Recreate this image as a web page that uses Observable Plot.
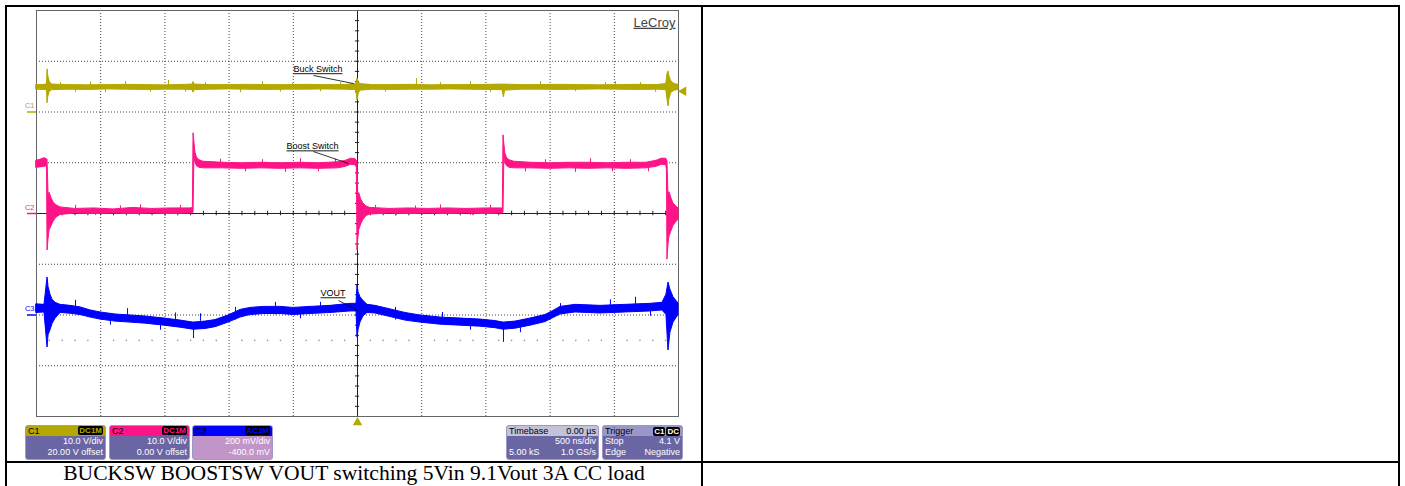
<!DOCTYPE html>
<html><head><meta charset="utf-8">
<script src="https://cdn.jsdelivr.net/npm/d3@7"></script>
<script src="https://cdn.jsdelivr.net/npm/@observablehq/plot@0.6"></script>
<style>
html,body{margin:0;padding:0;background:#fff;}
body{width:1405px;height:486px;position:relative;overflow:hidden;font-family:"Liberation Sans",Arial,sans-serif;}
#scope{position:absolute;left:0;top:0;width:700px;height:462px;}
.tline{position:absolute;background:#000;z-index:5;}
.panel{position:absolute;top:425px;height:35px;background:#6a66a4;border-radius:3px;z-index:4;font-size:9px;color:#fff;overflow:hidden;box-sizing:border-box;border:1px solid #9c99c8;}
.hdr{height:10px;line-height:10px;padding:0 2px;display:flex;justify-content:space-between;color:#000;}
.row{height:11px;line-height:11px;padding:0 2px;display:flex;justify-content:space-between;}
.badge{background:#000;border-radius:2px;padding:0 1px;font-weight:bold;font-size:8px;line-height:9px;height:9px;margin-left:1px;}
#caption{position:absolute;left:7px;width:694px;top:463px;height:23px;text-align:center;font-family:"Liberation Serif","Times New Roman",serif;font-size:21.6px;line-height:21px;white-space:nowrap;color:#000;}
</style></head>
<body>
<div id="scope"></div>
<div id="caption"></div>
<script>
// ---------- channel settings (from the scope panels) ----------
const chName = ["C1", "C2", "C3"];
const chColor = ["#b3a900", "#ff1488", "#0000ff"];
const chVdiv = [10, 10, 200];          // V/div, V/div, mV/div
const chOffset = [20, 0, -400];        // V, V, mV
const trigLevel = 4.1;                 // V on C1
const timeDomain = [-2500, 2500];      // ns, 500 ns/div

// ---------- C1 Buck switch (V): envelope ----------
const c1T  = [-2500,-2430,-2418,-2414,-2408,-2398,-2380,-2250,-2100,-1950,-1800,-1650,-1500,-1350,-1285,-1277,-1268,-1150,-1000,-850,-700,-550,-400,-250,-100,-10,0,8,20,120,270,420,570,720,870,1020,1130,1140,1150,1280,1430,1580,1730,1880,2030,2180,2330,2405,2414,2422,2430,2445,2470,2500];
const c1Lo = [4.40,4.35,4.2,1.7,3.0,3.9,4.3,4.4,4.35,4.45,4.4,4.35,4.4,4.4,4.3,3.8,4.3,4.4,4.45,4.4,4.35,4.4,4.4,4.45,4.4,4.3,2.3,3.4,4.2,4.4,4.35,4.4,4.4,4.45,4.4,4.35,4.3,2.9,4.2,4.4,4.4,4.35,4.4,4.45,4.4,4.35,4.4,4.3,2.5,1.1,2.6,3.8,4.2,4.35];
const c1Hi = [5.30,5.35,5.6,8.4,7.0,6.0,5.4,5.3,5.25,5.3,5.35,5.3,5.25,5.35,5.4,5.9,5.4,5.3,5.3,5.35,5.3,5.3,5.35,5.3,5.3,5.5,6.6,6.0,5.5,5.3,5.3,5.35,5.25,5.3,5.3,5.35,5.4,5.4,5.4,5.3,5.3,5.35,5.3,5.25,5.3,5.35,5.3,5.5,7.5,8.0,7.0,6.0,5.5,5.35];
// C1 noise hairs
const c1SpT  = [-2313,-2196,-2079,-1963,-1807,-1612,-1472,-1340,-1184,-911,-740,-600,-506,-288,-132,218,459,646,880,1036,1425,1698,1931,2009,2204,2321];
const c1SpLo = [4.8,3.9,4.4,3.8,4.8,3.9,4.8,3.9,4.8,3.8,4.8,3.9,4.8,4.0,4.8,3.9,4.8,4.8,4.8,3.9,4.8,4.0,4.8,4.8,4.8,3.9];
const c1SpHi = [5.8,4.9,5.9,4.8,6.0,4.8,6.2,4.8,5.8,4.7,6.0,4.8,5.6,4.8,5.8,4.8,6.6,5.8,6.0,4.8,6.0,4.8,5.8,6.0,5.8,4.8];

// ---------- C2 Boost switch (V): envelope ----------
const c2T  = [-2500,-2469,-2438,-2418,-2414,-2406,-2398,-2383,-2367,-2344,-2313,-2200,-2050,-1900,-1750,-1600,-1450,-1300,-1282,-1277,-1270,-1262,-1250,-1230,-1200,-1050,-900,-750,-600,-450,-300,-150,-90,-50,-15,-5,0,6,14,28,45,70,100,250,400,550,700,850,1000,1125,1132,1137,1144,1152,1165,1185,1220,1350,1500,1650,1800,1950,2100,2250,2330,2370,2405,2410,2414,2422,2430,2445,2460,2480,2500];
const c2Lo = [9.0,9.1,9.2,9.3,-7.3,-5.0,-3.3,-2.5,-1.6,-0.8,-0.3,0.0,-0.1,0.0,-0.1,0.0,-0.1,0.0,0.1,0.1,11.5,10.0,9.3,9.0,8.9,8.9,8.8,8.9,8.8,8.9,8.8,8.9,9.2,9.6,9.5,9.0,-7.3,-5.0,-3.2,-2.2,-1.3,-0.5,-0.2,0.0,-0.1,0.0,-0.1,0.0,-0.1,0.0,0.1,0.1,11.2,10.0,9.3,9.0,8.9,8.9,8.8,8.9,8.8,8.9,8.8,8.9,9.2,9.6,9.5,8.5,-9.1,-6.0,-4.5,-3.5,-2.5,-1.8,-1.2];
const c2Hi = [10.4,10.6,10.9,10.7,10.6,3.5,4.1,3.0,2.2,1.6,1.2,0.9,1.0,0.8,1.1,0.9,1.0,1.0,1.1,15.8,14.0,12.0,11.0,10.5,10.2,10.0,9.9,10.0,9.9,10.0,9.9,10.1,10.4,10.8,10.7,10.3,10.3,3.5,4.0,2.8,2.0,1.4,1.1,0.9,1.0,0.9,1.0,0.9,1.0,1.0,1.1,15.4,13.6,11.8,10.9,10.5,10.2,10.0,9.9,10.0,10.0,9.9,10.0,10.0,10.4,10.8,10.8,10.4,10.4,3.8,4.2,3.0,2.0,1.5,1.0];
const c2SpT  = [-2196,-2040,-1846,-1690,-1495,-1378,-1067,-872,-740,-561,-444,-304,-171,140,296,452,646,880,1036,1308,1464,1698,1815,1986,2126,2266];
const c2SpLo = [0.4,-0.4,0.4,0.3,-0.5,0.4,9.4,8.2,9.4,8.1,9.5,8.2,9.5,0.4,-0.5,0.4,0.3,-0.4,0.4,8.2,9.4,8.1,9.5,8.2,9.4,8.2];
const c2SpHi = [1.6,0.5,1.5,1.7,0.4,1.6,10.7,9.3,10.6,9.2,10.8,9.3,10.7,1.6,0.4,1.5,1.7,0.4,1.6,9.3,10.6,9.2,10.8,9.3,10.6,9.2];

// ---------- C3 VOUT (mV, AC coupled): envelope ----------
const c3T  = [-2500,-2438,-2414,-2406,-2391,-2375,-2352,-2313,-2235,-2157,-2079,-2001,-1885,-1768,-1651,-1503,-1378,-1277,-1184,-1106,-1005,-911,-833,-724,-600,-498,-366,-210,-55,-8,0,8,23,47,78,140,257,374,491,646,802,958,1075,1137,1230,1347,1464,1526,1581,1698,1893,2087,2282,2375,2406,2422,2437,2461,2500];
const c3Lo = [8,10,-128,-80,-60,-35,-15,8,5,0,-10,-18,-26,-30,-34,-42,-50,-58,-55,-48,-30,-10,0,4,4,0,4,8,14,14,-89,-60,-30,-5,8,6,-8,-22,-30,-38,-42,-46,-52,-58,-54,-42,-28,-12,2,10,6,10,14,18,0,-140,-70,-30,0];
const c3Hi = [42,40,148,110,80,60,48,40,36,30,18,10,2,-2,-6,-14,-22,-30,-26,-20,-2,20,28,32,32,28,32,36,44,44,116,90,70,55,40,36,22,8,-2,-10,-14,-18,-24,-30,-26,-14,0,16,32,40,36,40,44,48,80,128,100,70,45];
const c3SpT  = [-2196,-1924,-1791,-1534,-1417,-1277,-1223,-950,-639,-444,-288,296,662,880,1137,1269,1581,1970,2165,2282];
const c3SpLo = [20,-40,-15,-60,-20,-93,-25,-20,0,-15,20,-20,-20,-60,-108,-70,10,30,30,-5];
const c3SpHi = [58,-10,25,-30,8,-40,5,30,50,15,50,30,10,-30,-40,-40,45,60,70,20];

// ---------- labels on the screen ----------
const annText = ["Buck Switch", "Boost Switch", "VOUT"];
const annCh   = [0, 1, 2];
const annT    = [-117, -148, -93];      // end of label text (ns)
const annV    = [8.4, 13.2, 85];        // label level in channel units
const annFromT = [-343, -343, -148];
const annFromV = [7.2, 12.2, 57];
const annToT  = [-31, -70, 0];
const annToV  = [5.6, 9.85, 18];
const brand = "LeCroy";
const caption = "BUCKSW BOOSTSW VOUT switching 5Vin 9.1Vout 3A CC load";

// ---------- info panels ----------
const chCoupling = ["DC1M", "DC1M", "AC1M"];
const chScaleText = ["10.0 V/div", "10.0 V/div", "200 mV/div"];
const chOffsetText = ["20.00 V offset", "0.00 V offset", "-400.0 mV"];
const tbRows = [["Timebase", "0.00 µs"], ["", "500 ns/div"], ["5.00 kS", "1.0 GS/s"]];
const trRows = [["Trigger", ""], ["Stop", "4.1 V"], ["Edge", "Negative"]];
const trBadges = ["C1", "DC"];

// ---------- build ----------
const pos = (ch, v) => (v + chOffset[ch]) / chVdiv[ch];
const env = (ch, T, Lo, Hi) => T.map((t, i) => ({t, y1: pos(ch, Lo[i]), y2: pos(ch, Hi[i])}));
const envData = [env(0, c1T, c1Lo, c1Hi), env(1, c2T, c2Lo, c2Hi), env(2, c3T, c3Lo, c3Hi)];
const spikeData = [env(0, c1SpT, c1SpLo, c1SpHi), env(1, c2SpT, c2SpLo, c2SpHi), env(2, c3SpT, c3SpLo, c3SpHi)];

const gridT = d3.range(-2000, 2001, 500).filter(t => t !== 0);
const gridY = [-3, -2, -1, 1, 2, 3];
const minorT = d3.range(-2500, 2501, 100);
const minorY = d3.range(-20, 21).map(k => k / 5);
const fontFam = "'Liberation Sans', Arial, sans-serif";

const marks = [
  Plot.ruleX(gridT, {stroke: "#444", strokeDasharray: "1,2"}),
  Plot.ruleY(gridY, {stroke: "#444", strokeDasharray: "1,2"}),
  Plot.dot(minorT.filter(t => t % 500 !== 0), {x: d => d, y: -2.5, r: 0.8, fill: "#999"}),
  Plot.ruleX([0], {stroke: "#222"}),
  Plot.ruleY([0], {stroke: "#222"}),
  Plot.ruleX(minorT, {x: d => d, y1: -0.045, y2: 0.045, stroke: "#222"}),
  Plot.ruleY(minorY, {y: d => d, x1: -16, x2: 16, stroke: "#222"}),
  Plot.frame({stroke: "#666"})
];
[0, 1, 2].forEach(ch => {
  marks.push(Plot.areaY(envData[ch], {x: "t", y1: "y1", y2: "y2", fill: chColor[ch], stroke: chColor[ch], strokeWidth: 1}));
  marks.push(Plot.ruleX(spikeData[ch], {x: "t", y1: "y1", y2: "y2", stroke: chColor[ch], strokeWidth: 1}));
  const g = chOffset[ch] / chVdiv[ch];
  marks.push(Plot.text([chName[ch]], {x: timeDomain[0], y: g, dx: -2, dy: -6, textAnchor: "end", fontSize: 7.5, fill: chColor[ch]}));
  marks.push(Plot.ruleY([g], {x1: timeDomain[0], x2: timeDomain[0], insetLeft: -9, stroke: chColor[ch], strokeWidth: 1.5}));
});
annText.forEach((s, i) => {
  const ch = annCh[i];
  marks.push(Plot.text([s], {x: annT[i], y: pos(ch, annV[i]), textAnchor: "end", fontSize: 9, fill: "#000"}));
  marks.push(Plot.link([i], {x1: annFromT[i], y1: pos(ch, annFromV[i]), x2: annToT[i], y2: pos(ch, annToV[i]), stroke: "#000", strokeWidth: 0.8}));
});
marks.push(Plot.text([brand], {frameAnchor: "top-right", dx: -3, dy: 7, fontSize: 13, fill: "#444", textAnchor: "end"}));
marks.push(Plot.dot([0], {x: d => d, y: -4, dy: 6, symbol: "triangle", r: 3.5, fill: chColor[0]}));
marks.push(Plot.dot([trigLevel], {x: timeDomain[1], y: d => pos(0, d), dx: 5, symbol: "triangle", r: 3.5, rotate: -90, fill: chColor[0]}));

const svg = Plot.plot({
  width: 700, height: 462,
  marginLeft: 36, marginRight: 22, marginTop: 10, marginBottom: 46,
  x: {domain: timeDomain, axis: null},
  y: {domain: [-4, 4], axis: null},
  style: {fontFamily: fontFam, background: "transparent"},
  marks
});
d3.select(svg).selectAll("text")
  .filter(function() { return annText.includes(this.textContent) || this.textContent === brand; })
  .attr("text-decoration", "underline");
document.getElementById("scope").appendChild(svg);
document.getElementById("caption").textContent = caption;

// table rules
[[5,5,1395,2],[5,5,2,481],[1398,5,2,481],[701,5,2,481],[5,461,1395,2]].forEach(([l,t,w,h]) => {
  const d = document.createElement("div");
  d.className = "tline";
  Object.assign(d.style, {left: l + "px", top: t + "px", width: w + "px", height: h + "px"});
  document.body.appendChild(d);
});

// panels
function esc(s) { return s.replace(/&/g, "&amp;").replace(/</g, "&lt;"); }
function addPanel(left, width, hdrBg, hdrHtml, rows, bodyBg) {
  const p = document.createElement("div");
  p.className = "panel";
  p.style.left = left + "px"; p.style.width = width + "px"; p.style.background = bodyBg;
  p.innerHTML = `<div class="hdr" style="background:${hdrBg}">${hdrHtml}</div>` +
    rows.map(r => `<div class="row"><span>${esc(r[0])}</span><span>${esc(r[1])}</span></div>`).join("");
  document.body.appendChild(p);
}
const panelLeft = [25, 109, 192];
const bodyBg = ["#6a66a4", "#6a66a4", "#c195c8"];
[0, 1, 2].forEach(ch => {
  addPanel(panelLeft[ch], 81, chColor[ch],
    `<span>${chName[ch]}</span><span class="badge" style="color:${chColor[ch]}">${chCoupling[ch]}</span>`,
    [["", chScaleText[ch]], ["", chOffsetText[ch]]], bodyBg[ch]);
});
addPanel(506, 93, "#c3c2da", `<span>${tbRows[0][0]}</span><span>${tbRows[0][1]}</span>`, tbRows.slice(1), "#6a66a4");
addPanel(602, 81, "#9a97c8", `<span>${trRows[0][0]}</span><span>${trBadges.map(b => `<span class="badge" style="color:#fff">${b}</span>`).join("")}</span>`, trRows.slice(1), "#6a66a4");
</script>
</body></html>
